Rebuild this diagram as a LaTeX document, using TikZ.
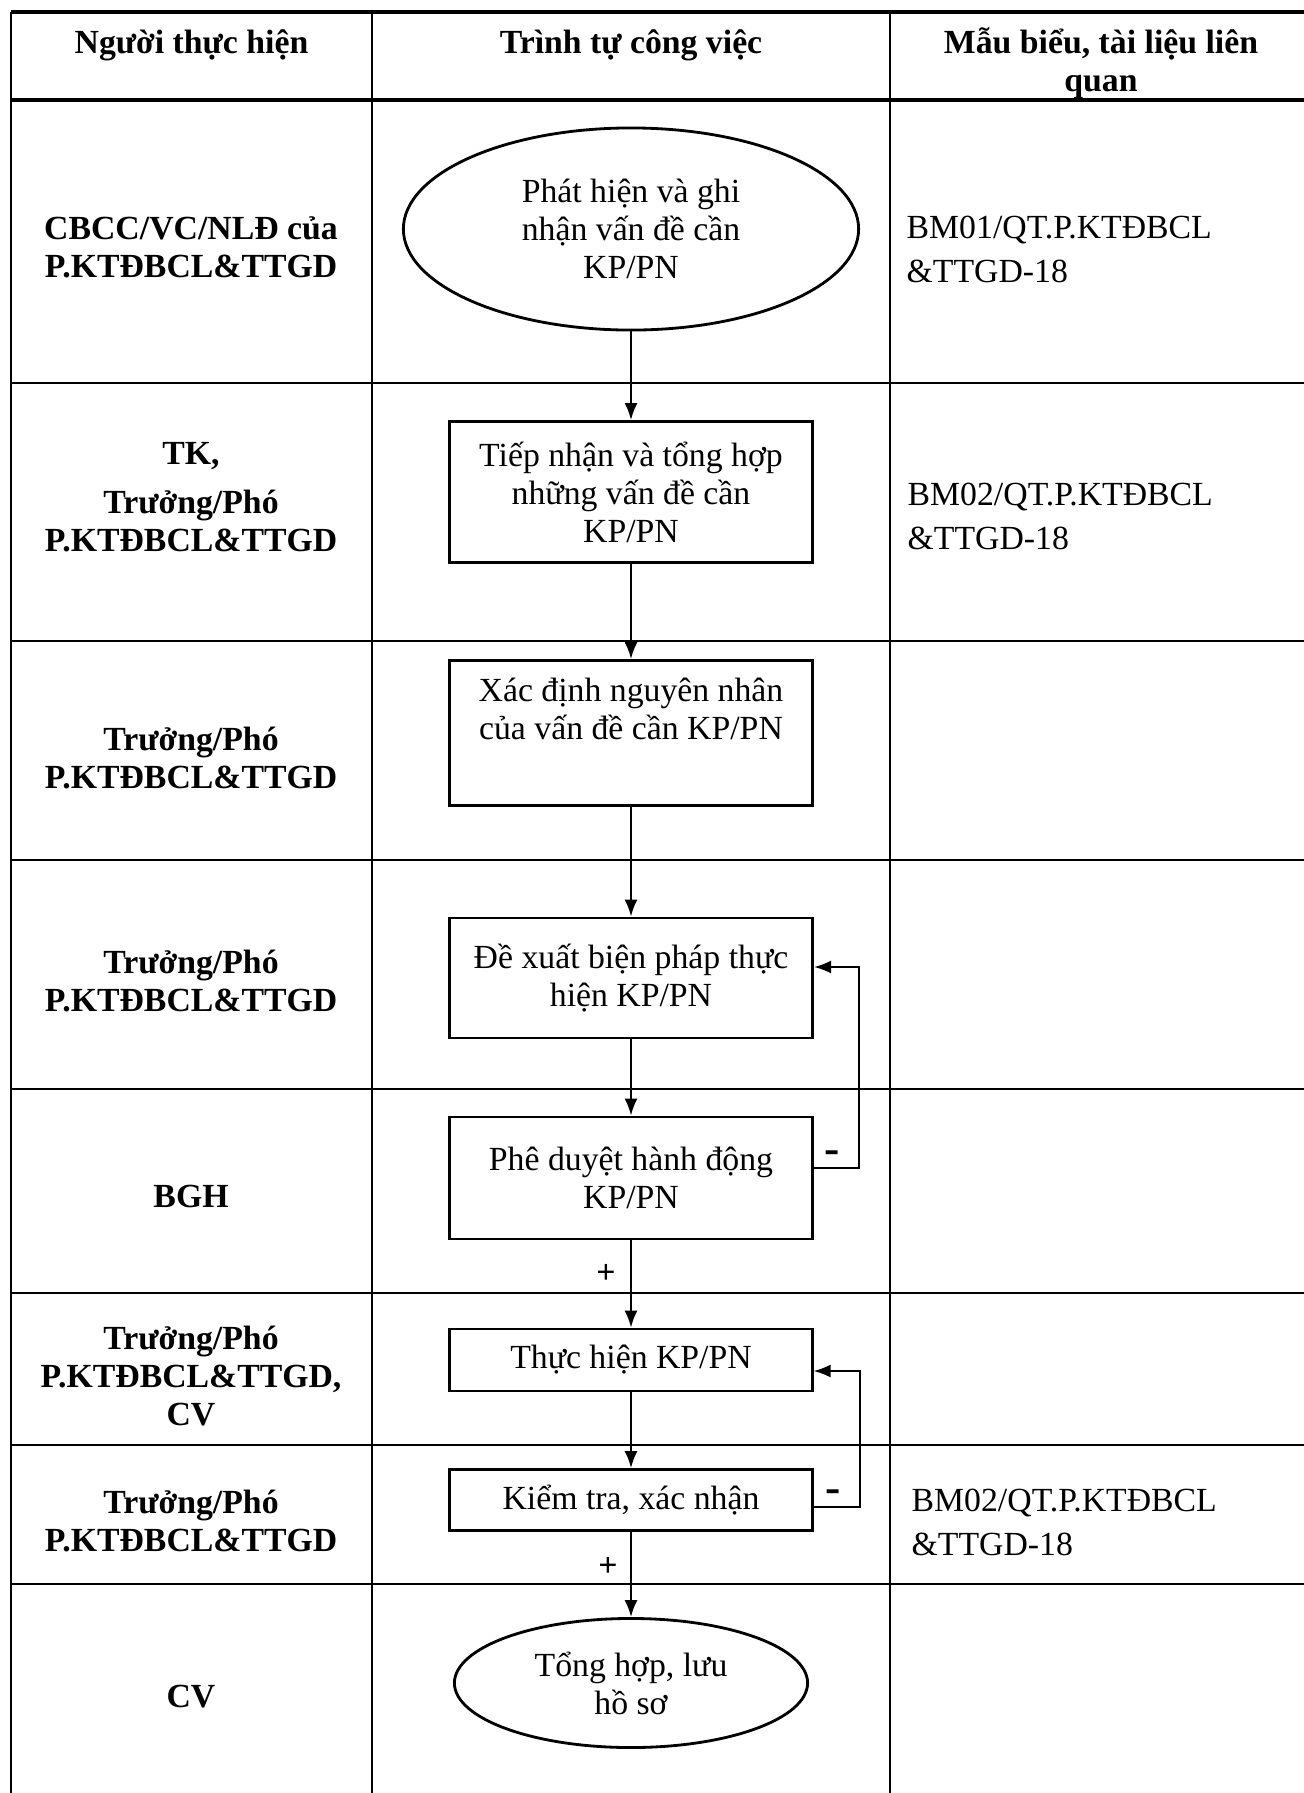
\documentclass[tikz,border=0pt]{standalone}
\usepackage{fontspec}
\setmainfont{Liberation Serif}
\usetikzlibrary{shapes.geometric,arrows.meta}
\tikzset{>={Latex[length=0.17cm,width=0.13cm]}}
\tikzset{
  txt/.style={font=\fontsize{9.6pt}{10.8pt}\selectfont,align=center,inner sep=0pt},
  head/.style={txt,font=\fontsize{9.6pt}{10.8pt}\selectfont\bfseries},
  actor/.style={head},
  form/.style={txt,align=left,anchor=west,font=\fontsize{9.6pt}{12.5pt}\selectfont},
  task/.style={txt,draw,line width=0.8pt,rectangle},
  oval/.style={txt,draw,line width=0.8pt,ellipse},
  sign/.style={txt,font=\fontsize{9.6pt}{10.8pt}\selectfont\bfseries},
  minus/.style={txt,font=\fontsize{13pt}{13pt}\selectfont\bfseries},
}

\begin{document}
\begin{tikzpicture}[x=0.01cm,y=-0.01cm]
  \pgfmathsetmacro{\Left}{11};
  \pgfmathsetmacro{\ColA}{372};
  \pgfmathsetmacro{\ColB}{890};
  \pgfmathsetmacro{\Right}{1304};
  \pgfmathsetmacro{\Top}{12};
  \pgfmathsetmacro{\Bottom}{1793};
  \pgfmathsetmacro{\Flow}{631};
  \useasboundingbox (0,0) rectangle (1304,1793);
  % 
  \draw[line width=0.9pt] (\Left,\Top) -- (\Right,\Top);
  \draw[line width=0.9pt] (\Left,100) -- (\Right,100);
  \foreach \Row in {383,641,860,1089,1293,1445,1584}
    \draw[line width=0.5pt] (\Left,\Row) -- (\Right,\Row);
  \foreach \Col in {\Left,\ColA,\ColB}
    \draw[line width=0.6pt] (\Col,\Top) -- (\Col,\Bottom);
  % 
  \node[head] (hdrA) at ({(\Left+\ColA)/2},45) {Người thực hiện};
  \node[head] (hdrB) at ({(\ColA+\ColB)/2},45) {Trình tự công việc};
  \node[head] (hdrC) at (1101,63) {Mẫu biểu, tài liệu liên\\quan};
  % 
  \node[actor] (who1) at (191,247) {CBCC/VC/NLĐ của\\P.KTĐBCL\&TTGD};
  \node[actor] (who2) at (191,497) {TK,\\[3pt]Trưởng/Phó\\P.KTĐBCL\&TTGD};
  \node[actor] (who3) at (191,758) {Trưởng/Phó\\P.KTĐBCL\&TTGD};
  \node[actor] (who4) at (191,981) {Trưởng/Phó\\P.KTĐBCL\&TTGD};
  \node[actor] (who5) at (191,1196) {BGH};
  \node[actor] (who6) at (191,1376) {Trưởng/Phó\\P.KTĐBCL\&TTGD,\\CV};
  \node[actor] (who7) at (191,1521) {Trưởng/Phó\\P.KTĐBCL\&TTGD};
  \node[actor] (who8) at (191,1697) {CV};
  % 
  \node[oval,minimum width=4.55cm,minimum height=2.02cm] (detect) at (\Flow,229) {Phát hiện và ghi\\nhận vấn đề cần\\KP/PN};
  \node[task,minimum width=3.63cm,minimum height=1.41cm] (collect) at (\Flow,492) {Tiếp nhận và tổng hợp\\những vấn đề cần\\KP/PN};
  \node[task,minimum width=3.62cm,minimum height=1.45cm] (cause) at (\Flow,733) {Xác định nguyên nhân\\của vấn đề cần KP/PN\\\strut};
  \node[task,minimum width=3.63cm,minimum height=1.20cm] (propose) at (\Flow,978) {Đề xuất biện pháp thực\\hiện KP/PN};
  \node[task,minimum width=3.63cm,minimum height=1.22cm] (approve) at (\Flow,1178) {Phê duyệt hành động\\KP/PN};
  \node[task,minimum width=3.62cm,minimum height=0.62cm] (execute) at (\Flow,1360) {Thực hiện KP/PN};
  \node[task,minimum width=3.63cm,minimum height=0.61cm] (verify) at (\Flow,1500) {Kiểm tra, xác nhận};
  \node[oval,minimum width=3.53cm,minimum height=1.29cm] (archive) at (\Flow,1683) {Tổng hợp, lưu\\hồ sơ};
  % 
  \draw[->,line width=0.6pt] (detect) -- (collect);
  \draw[->,line width=0.6pt] (collect) -- (cause);
  \draw[->,line width=0.6pt] (cause) -- (propose);
  \draw[->,line width=0.6pt] (propose) -- (approve);
  \draw[->,line width=0.6pt] (approve) -- (execute);
  \draw[->,line width=0.6pt] (execute) -- (verify);
  \draw[->,line width=0.6pt] (verify) -- (archive);
  \draw[->,line width=0.6pt] ([yshift=0.1cm]approve.east) -- ++(45,0) |- ([yshift=0.11cm]propose.east);
  \draw[->,line width=0.6pt] ([yshift=-0.07cm]verify.east) -- ++(46,0) |- ([yshift=-0.11cm]execute.east);
  \node[minus] (minus1) at (832,1157) {-};
  \node[minus] (minus2) at (833,1496) {-};
  \node[sign] (plus1) at (606,1274) {+};
  \node[sign] (plus2) at (608,1567) {+};
  % 
  \node[form] (form1) at (906,249) {BM01/QT.P.KTĐBCL\\\&TTGD-18};
  \node[form] (form2) at (907,516) {BM02/QT.P.KTĐBCL\\\&TTGD-18};
  \node[form] (form3) at (911,1522) {BM02/QT.P.KTĐBCL\\\&TTGD-18};
\end{tikzpicture}
\end{document}
